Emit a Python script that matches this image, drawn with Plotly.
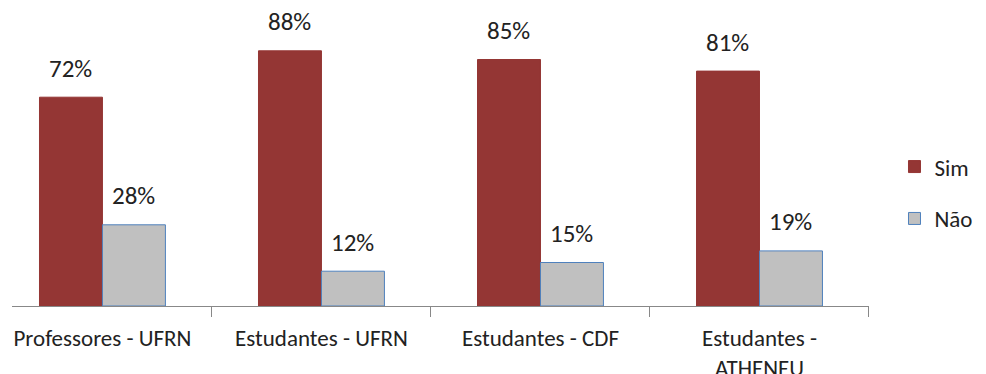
import plotly.graph_objects as go

categories = ["Professores - UFRN", "Estudantes - UFRN", "Estudantes - CDF", "Estudantes -<br>ATHENEU"]
sim = [0.72, 0.88, 0.85, 0.81]
nao = [0.28, 0.12, 0.15, 0.19]
series_names = ["Sim", "Não"]

FONT = "Carlito, Lato, 'Liberation Sans Narrow', sans-serif"

fig = go.Figure()
fig.add_trace(go.Bar(x=categories, y=sim, name=series_names[0], legendgroup="a",
                     marker=dict(color="#943634", line=dict(color="#943634", width=1))))
fig.add_trace(go.Bar(x=categories, y=nao, name=series_names[1], legendgroup="b",
                     marker=dict(color="#C0C0C0", line=dict(color="#4F81BD", width=1))))

# page has an 8px body offset
W, H = 978, 366
ml, mr, mt, mb = 0, 116.5, 8, 68
pw = W - ml - mr
annotations = []
for i, c in enumerate(categories):
    for vals, shift in ((sim, -31.5), (nao, 31.5)):
        annotations.append(dict(x=c, y=vals[i], xref="x", yref="y", text=f"{round(vals[i]*100)}%",
                                showarrow=False, xshift=shift, yshift=29,
                                font=dict(family=FONT, size=25, color="#222")))

fig.update_layout(
    width=W, height=H,
    margin=dict(l=ml, r=mr, t=mt, b=mb, autoexpand=False),
    paper_bgcolor="white", plot_bgcolor="white",
    barmode="group", bargap=0.425, bargroupgap=0,
    font=dict(family=FONT, size=23, color="#222"),
    showlegend=True,
    legend=dict(x=(887 - ml) / pw, xanchor="left", y=0.391, yanchor="middle",
                font=dict(family=FONT, size=23, color="#222"), tracegroupgap=19,
                bgcolor="rgba(0,0,0,0)"),
    annotations=annotations,
    xaxis=dict(domain=[4 / pw, 1], range=[-0.413, 3.5], showline=True, linecolor="#888",
               linewidth=1, ticks="outside", tickson="boundaries", ticklen=10,
               tickcolor="#888", showgrid=False, ticklabelstandoff=11, automargin=False,
               tickfont=dict(family=FONT, size=23, color="#222")),
    yaxis=dict(range=[0, 1], visible=False, showgrid=False, zeroline=False, automargin=False),
)
fig.write_html("out.html")
